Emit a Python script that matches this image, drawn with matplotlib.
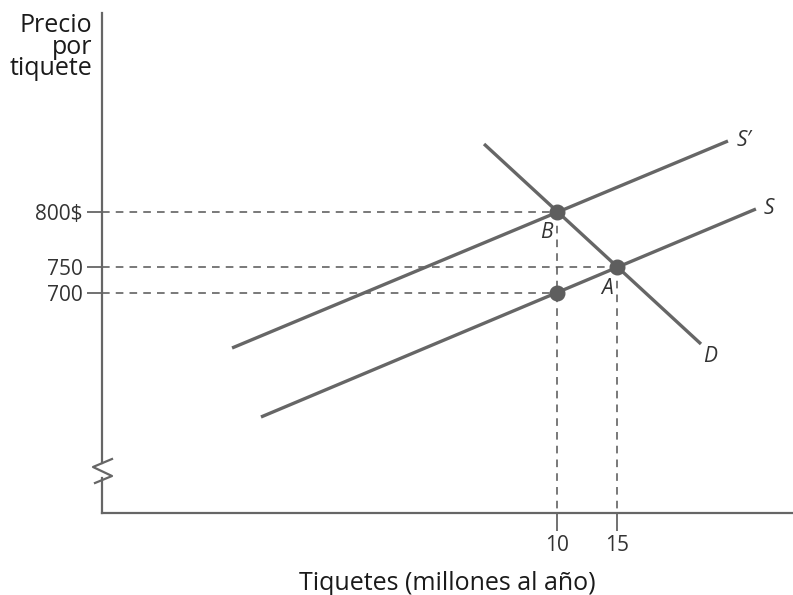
import matplotlib
matplotlib.use("Agg")
import matplotlib.pyplot as plt
from matplotlib.lines import Line2D

plt.rcParams['font.family'] = ['Open Sans', 'DejaVu Sans']

# ---- data (x: millions of tickets, y: schematic price level) ----
s_x = [-14.67, 26.58]
s_y = [96, 304]
s2_x = [-17.08, 24.25]
s2_y = [165, 372]
d_x = [3.92, 22.0]
d_y = [369, 169]

pts_x = [10, 15, 10]          # B, A, C
pts_y = [301, 246, 220]
pt_names = ["B", "A", ""]

xtick_vals = [10, 15]
xtick_labels = ["10", "15"]
ytick_vals = [301, 246, 220]
ytick_labels = ["800$", "750", "700"]

W, H = 793, 595
fig = plt.figure(figsize=(W / 100, H / 100), dpi=100)
ax_left, ax_right, ax_top, ax_bot = 102, 793, 13, 513
ax = fig.add_axes([ax_left / W, 1 - ax_bot / H, (ax_right - ax_left) / W, (ax_bot - ax_top) / H])
ax.set_xlim(-27.92, 29.67)
ax.set_ylim(0, 500)

line_col = "#666666"
dash_col = "#555555"
text_col = "#333333"

# dashed guides
for x, y in zip(pts_x, pts_y):
    ax.plot([-27.92, x], [y, y], ls=(0, (5, 4)), color=dash_col, lw=1.1, zorder=1)
for x, y in zip(pts_x[:2], pts_y[:2]):
    ax.plot([x, x], [y, 0], ls=(0, (5, 4)), color=dash_col, lw=1.1, zorder=1)

# curves
ax.plot(s_x, s_y, color=line_col, lw=2.4, solid_capstyle='butt', zorder=2)
ax.plot(s2_x, s2_y, color=line_col, lw=2.4, solid_capstyle='butt', zorder=2)
ax.plot(d_x, d_y, color=line_col, lw=2.4, solid_capstyle='butt', zorder=2)
ax.plot(pts_x, pts_y, 'o', color="#5e5e5e", ms=10.5, zorder=3)

lab_kw = dict(fontsize=15, style='italic', color=text_col)
ax.text(s2_x[1] + 0.7, s2_y[1], "S\u2032", va='center', ha='left', **lab_kw)
ax.text(s_x[1] + 0.6, s_y[1], "S", va='center', ha='left', **lab_kw)
ax.text(d_x[1] + 0.2, d_y[1] - 13, "D", va='center', ha='left', **lab_kw)
ax.text(pts_x[0] - 0.9, pts_y[0] - 20, pt_names[0], va='center', ha='center', **lab_kw)
ax.text(pts_x[1] - 0.8, pts_y[1] - 21, pt_names[1], va='center', ha='center', **lab_kw)

# spines / ticks
for sp in ['top', 'right', 'left']:
    ax.spines[sp].set_visible(False)
ax.spines['bottom'].set_color(line_col)
ax.spines['bottom'].set_linewidth(1.6)

ax.set_xticks(xtick_vals)
ax.set_xticklabels(xtick_labels)
ax.set_yticks(ytick_vals)
ax.set_yticklabels(ytick_labels)
ax.tick_params(axis='x', direction='out', length=13, width=1.3, color=line_col,
               labelsize=15, labelcolor=text_col, pad=3)
ax.tick_params(axis='y', direction='out', length=11, width=1.3, color=line_col,
               labelsize=15, labelcolor=text_col, pad=3)

# left axis with break
def fy(py):
    return 1 - py / H
def fx(px):
    return px / W
lw_ax = 1.6
fig.add_artist(Line2D([fx(102), fx(102)], [fy(13), fy(463)], color=line_col, lw=lw_ax))
fig.add_artist(Line2D([fx(102), fx(102)], [fy(478), fy(513)], color=line_col, lw=lw_ax))
fig.add_artist(Line2D([fx(112), fx(93), fx(112), fx(95)], [fy(459), fy(467), fy(476), fy(483)],
                      color=line_col, lw=lw_ax))

ax.set_xlabel("Tiquetes (millones al año)", fontsize=18, color="#1a1a1a", labelpad=11)
fig.text(fx(92), fy(13), "Precio\npor\ntiquete", ha='right', va='top', fontsize=18,
         color="#1a1a1a", linespacing=0.82)

fig.savefig("out.png", dpi=100)
